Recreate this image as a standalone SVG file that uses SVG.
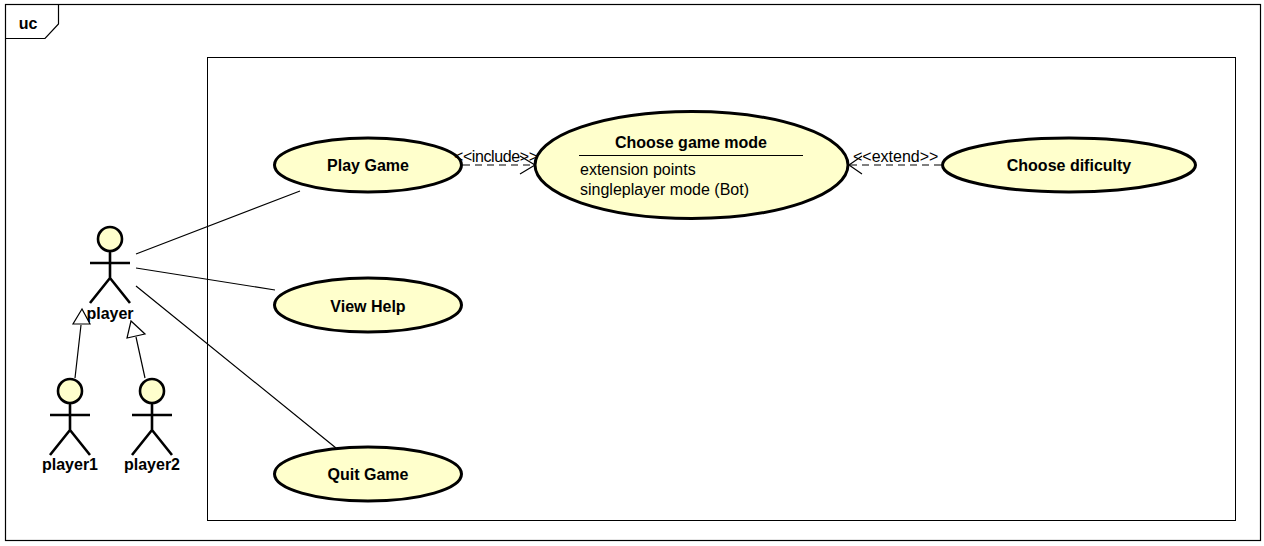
<svg xmlns="http://www.w3.org/2000/svg" width="1264" height="546" viewBox="0 0 1264 546">
<style>
text{font-family:"Liberation Sans",Arial,sans-serif;font-size:16px;fill:#000}
.b{font-weight:bold;text-anchor:middle}
.uc{fill:#ffffcc;stroke:#000;stroke-width:3}
.line{fill:none;stroke:#000;stroke-width:1.2}
.dash{fill:none;stroke:#000;stroke-width:1.2;stroke-dasharray:7 5}
.open{fill:none;stroke:#000;stroke-width:1.2}
.tri{fill:#fff;stroke:#000;stroke-width:1.2}
.head{fill:#ffffcc;stroke:#000;stroke-width:2.6}
.body{fill:none;stroke:#000;stroke-width:2.6}
</style>
<defs>
<g id="actor">
<circle class="head" cx="0" cy="-12" r="12"/>
<path class="body" d="M0 0V27M-20 12H20M-20 52L0 27L20 52"/>
</g>
</defs>
<rect width="1264" height="546" fill="#fff"/>
<g id="frame">
<rect x="5.500" y="4.500" width="1255" height="536" fill="none" stroke="#000" stroke-width="1.200"/>
<path d="M5.500 38.500H45L58.500 24V4.500" fill="none" stroke="#000" stroke-width="1.200"/>
<text x="28" y="29" class="b">uc</text>
</g>
<g id="boundary"><rect x="207.500" y="57.500" width="1028" height="463" fill="none" stroke="#000" stroke-width="1"/></g>
<g id="playGame"><ellipse class="uc" cx="368" cy="165" rx="93.500" ry="27"/><text x="368" y="171" class="b">Play Game</text></g>
<g id="viewHelp"><ellipse class="uc" cx="368" cy="305" rx="93.500" ry="27"/><text x="368" y="312" class="b">View Help</text></g>
<g id="quitGame"><ellipse class="uc" cx="368" cy="474" rx="93.500" ry="27"/><text x="368" y="480" class="b">Quit Game</text></g>
<g id="chooseMode">
<ellipse class="uc" cx="691.500" cy="165" rx="156.500" ry="53.500"/>
<text x="691" y="148" class="b">Choose game mode</text>
<path d="M579 155.500H803" stroke="#000" stroke-width="1.200"/>
<text x="580" y="175">extension points</text>
<text x="580" y="195">singleplayer mode (Bot)</text>
</g>
<g id="chooseDifficulty"><ellipse class="uc" cx="1069" cy="165" rx="126.500" ry="27"/><text x="1069" y="171" class="b">Choose dificulty</text></g>
<g id="player"><use href="#actor" x="110" y="251"/><text x="110" y="319" class="b">player</text></g>
<g id="player1"><use href="#actor" x="70" y="403"/><text x="70" y="470" class="b">player1</text></g>
<g id="player2"><use href="#actor" x="152" y="403"/><text x="152" y="470" class="b">player2</text></g>
<g id="connectors">
<path class="line" d="M136 254L300 191M136 268L275 290M136 286L336 448"/>
<path class="dash" d="M463 165H535"/>
<path class="open" d="M520 156L535 165L520 174"/>
<path class="dash" d="M941 165H849"/>
<path class="open" d="M862 156L849 165L862 174"/>
<path class="line" d="M75 378L81 325M145 378L136 337"/>
<polygon class="tri" points="82,309 73,324 90,324"/>
<polygon class="tri" points="131,321 127,338 145,334"/>
<text x="454" y="162" textLength="84">&lt;&lt;include&gt;&gt;</text>
<text x="853" y="162">&lt;&lt;extend&gt;&gt;</text>
</g>
</svg>
